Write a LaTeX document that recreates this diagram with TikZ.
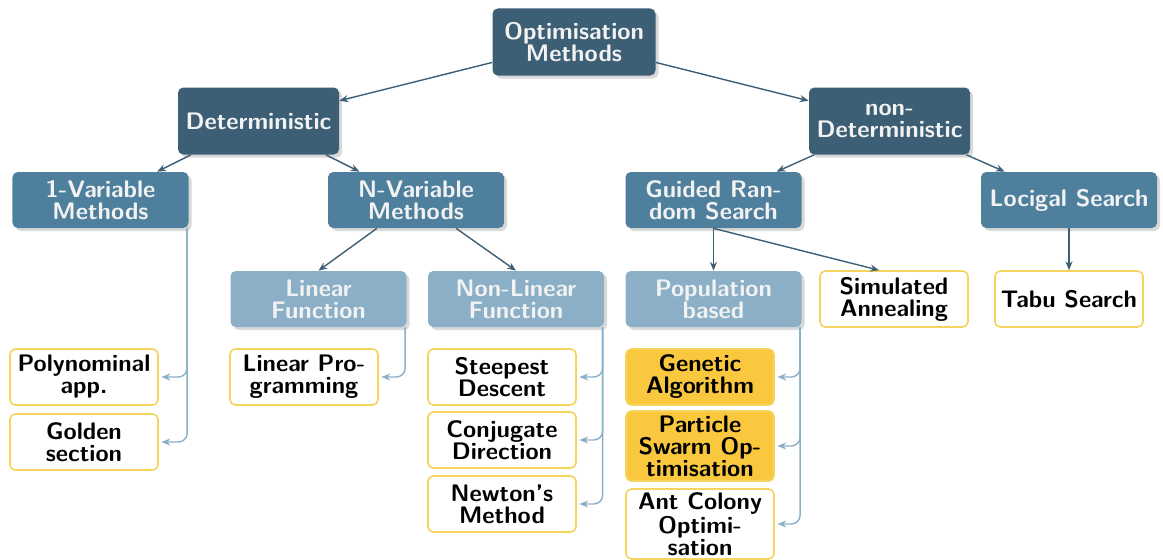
\documentclass[tikz,border=0pt]{standalone}
\usepackage{xcolor}
\usetikzlibrary{arrows.meta}
\usetikzlibrary{shadows}

\definecolor{darkblue}{HTML}{3D5F75}
\definecolor{midblue}{HTML}{4E809E}
\definecolor{lightblue}{HTML}{8AAFC6}
\definecolor{leafline}{HTML}{F5D45E}
\definecolor{leaffill}{HTML}{F9C83E}
\definecolor{boxtext}{HTML}{F2F2F2}

\tikzset{
  box/.style={rounded corners=3pt, align=center, inner sep=2pt,
    font=\sffamily\bfseries\fontsize{13.6}{12.5}\selectfont},
  toplevel/.style={box, fill=darkblue, text=boxtext, minimum width=3.26cm, minimum height=1.34cm,
    drop shadow={shadow xshift=0.6mm, shadow yshift=-0.6mm, opacity=0.3}},
  midlevel/.style={box, fill=midblue, text=boxtext, minimum width=3.52cm, minimum height=1.12cm,
    drop shadow={shadow xshift=0.6mm, shadow yshift=-0.6mm, opacity=0.3}},
  lowlevel/.style={box, fill=lightblue, text=boxtext, minimum width=3.52cm, minimum height=1.12cm,
    drop shadow={shadow xshift=0.6mm, shadow yshift=-0.6mm, opacity=0.3}},
  leaf/.style={box, draw=leafline, line width=0.9pt, fill=white, text=black,
    minimum width=2.96cm, minimum height=1.12cm},
  hotleaf/.style={leaf, fill=leaffill},
  link/.style={draw=darkblue, line width=0.8pt, -{Stealth[length=5pt, width=4pt]}},
  sublink/.style={draw=lightblue, line width=0.8pt, rounded corners=5pt,
    shorten >=1.5pt, -{Stealth[length=5pt, width=4pt]}}
}

\begin{document}
\begin{tikzpicture}
  \useasboundingbox (0,0) rectangle (23.26,-11.2);

  % levels 0 and 1
  \node[toplevel] (opt) at (11.48,-0.84) {Optimisation\\Methods};
  \node[toplevel, minimum width=3.22cm] (det) at (5.17,-2.42) {Deterministic};
  \node[toplevel, minimum width=3.22cm] (ndet) at (17.79,-2.42) {non-\\Deterministic};

  % level 2
  \node[midlevel] (onevar) at (2.01,-4.0) {1-Variable\\Methods};
  \node[midlevel] (nvar) at (8.32,-4.0) {N-Variable\\Methods};
  \node[midlevel] (guided) at (14.27,-4.0) {Guided Ran-\\dom Search};
  \node[midlevel] (logical) at (21.38,-4.0) {Locigal Search};

  % level 3
  \node[lowlevel] (linf) at (6.37,-5.98) {Linear\\Function};
  \node[lowlevel] (nlinf) at (10.32,-5.98) {Non-Linear\\Function};
  \node[lowlevel] (popb) at (14.27,-5.98) {Population\\based};
  \node[leaf] (simann) at (17.88,-5.98) {Simulated\\Annealing};
  \node[leaf] (tabu) at (21.38,-5.98) {Tabu Search};

  % leaves
  \node[leaf] (poly) at (1.68,-7.54) {Polynominal\\app.};
  \node[leaf] (golden) at (1.68,-8.84) {Golden\\section};
  \node[leaf] (linprog) at (6.08,-7.54) {Linear Pro-\\gramming};
  \node[leaf] (steep) at (10.04,-7.54) {Steepest\\Descent};
  \node[leaf] (conj) at (10.04,-8.8) {Conjugate\\Direction};
  \node[leaf] (newton) at (10.04,-10.08) {Newton's\\Method};
  \node[hotleaf] (genetic) at (14.0,-7.54) {Genetic\\Algorithm};
  \node[hotleaf, minimum height=1.4cm] (pso) at (14.0,-8.92) {Particle\\Swarm Op-\\timisation};
  \node[leaf, minimum height=1.4cm] (aco) at (14.0,-10.48) {Ant Colony\\Optimi-\\sation};

  % tree links
  \draw[link] (opt) -- (det);
  \draw[link] (opt) -- (ndet);
  \draw[link] (det) -- (onevar);
  \draw[link] (det) -- (nvar);
  \draw[link] (ndet) -- (guided);
  \draw[link] (ndet) -- (logical);
  \draw[link] (nvar) -- (linf.north);
  \draw[link] (nvar) -- (nlinf.north);
  \draw[link] (guided.south) -- (popb.north);
  \draw[link] (guided.south) -- ([xshift=-0.3cm]simann.north);
  \draw[link] (logical.south) -- (tabu.north);

  % side links to the leaves
  \draw[sublink] ([xshift=-1pt]onevar.south east) |- (poly.east);
  \draw[sublink] ([xshift=-1pt]onevar.south east) |- (golden.east);
  \draw[sublink] ([xshift=-1pt]linf.south east) |- (linprog.east);
  \draw[sublink] ([xshift=-1pt]nlinf.south east) |- (steep.east);
  \draw[sublink] ([xshift=-1pt]nlinf.south east) |- (conj.east);
  \draw[sublink] ([xshift=-1pt]nlinf.south east) |- (newton.east);
  \draw[sublink] ([xshift=-1pt]popb.south east) |- (genetic.east);
  \draw[sublink] ([xshift=-1pt]popb.south east) |- (pso.east);
  \draw[sublink] ([xshift=-1pt]popb.south east) |- (aco.east);
\end{tikzpicture}
\end{document}
